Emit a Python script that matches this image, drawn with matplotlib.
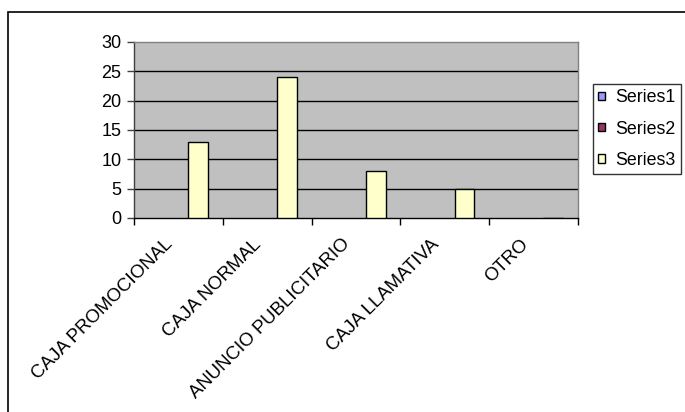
import numpy as np
import matplotlib
matplotlib.use("Agg")
import matplotlib.pyplot as plt
import matplotlib.transforms as mtransforms
from matplotlib.patches import Rectangle

plt.rcParams['font.family'] = ['Liberation Sans', 'DejaVu Sans']

categories = ["CAJA PROMOCIONAL", "CAJA NORMAL", "ANUNCIO PUBLICITARIO",
              "CAJA LLAMATIVA", "OTRO"]
series_names = ["Series1", "Series2", "Series3"]
series1 = [np.nan, np.nan, np.nan, np.nan, np.nan]
series2 = [np.nan, np.nan, np.nan, np.nan, np.nan]
series3 = [13, 24, 8, 5, 0]
y_ticks = [0, 5, 10, 15, 20, 25, 30]

colors = ["#9999FF", "#993366", "#FFFFCC"]
FS_TICK = 13.0
FS_CAT = 13.4
FS_LEG = 12.8

fig = plt.figure(figsize=(6.85, 4.12), dpi=100)
fig.patch.set_facecolor("white")

# outer chart frame
fig.patches.append(Rectangle((8 / 685, -0.01), 1.0, (412 - 12) / 412 + 0.01,
                             transform=fig.transFigure, fill=False,
                             edgecolor="black", linewidth=1.2, zorder=0))

ax = fig.add_axes([134 / 685, 1 - 218 / 412, (578 - 134) / 685, (218 - 42) / 412])
ax.set_facecolor("#C0C0C0")

n = len(categories)
x = np.arange(n)
gap = 1.5
w = 1.0 / (3 + gap)
offsets = [-w, 0, w]
handles = []
for vals, c, off, name in zip([series1, series2, series3], colors, offsets, series_names):
    b = ax.bar(x + off, vals, width=w, color=c, edgecolor="black",
               linewidth=1.0, label=name, zorder=3)
    handles.append(b)

ax.set_xlim(-0.5, n - 0.5)
ax.set_ylim(0, 30)
ax.set_yticks(y_ticks)
ax.set_yticklabels([str(v) for v in y_ticks], fontsize=FS_TICK)
shift = mtransforms.ScaledTranslation(0, -1.5 / 72, fig.dpi_scale_trans)
for lbl in ax.get_yticklabels():
    lbl.set_transform(lbl.get_transform() + shift)
for v in y_ticks[1:-1]:
    ax.axhline(v, color="black", linewidth=1.0, zorder=1)

# category boundary ticks
ax.set_xticks(np.arange(-0.5, n, 1.0))
ax.set_xticklabels([])
ax.tick_params(axis="x", direction="out", length=5, width=1, color="black")
ax.tick_params(axis="y", direction="out", length=5, width=1, color="#404040", pad=4)

for xi, label in zip(x, categories):
    ax.text(xi - 0.16, -3.0, label, rotation=45, ha="right", va="top",
            rotation_mode="anchor", fontsize=FS_CAT, transform=ax.transData)

for s in ["top", "right"]:
    ax.spines[s].set_color("#808080")
ax.spines["left"].set_color("#404040")
ax.spines["bottom"].set_color("black")
for s in ax.spines.values():
    s.set_linewidth(1.0)

leg = fig.legend(handles=handles, labels=series_names, loc="upper left",
                 bbox_to_anchor=(593 / 685, 1 - 84 / 412), fontsize=FS_LEG,
                 frameon=True, fancybox=False, edgecolor="black",
                 handlelength=0.35, handleheight=0.35, handletextpad=0.6,
                 labelspacing=0.8, borderpad=0.3, borderaxespad=0)
leg.get_frame().set_linewidth(1.0)

fig.savefig("out.png", dpi=100)
